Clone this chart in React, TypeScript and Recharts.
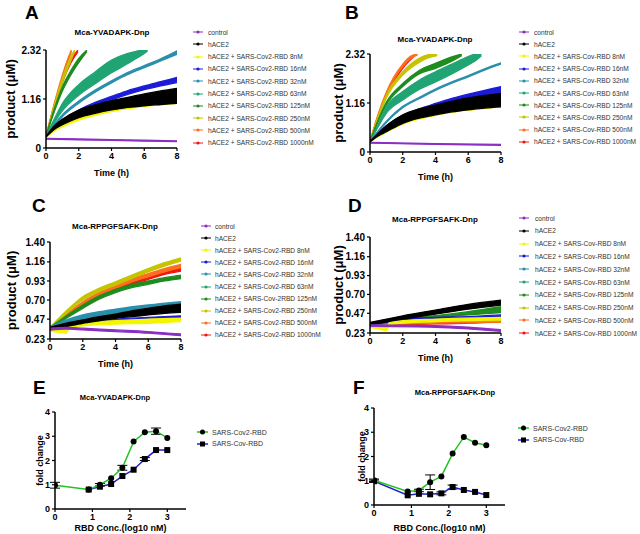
import React from 'react';
import { ComposedChart, Area, Line, XAxis, YAxis, ErrorBar, Label } from 'recharts';

type Pt = [number, number, number]; // [time h, low, high]

const COV2_NAMES = [
  'control', 'hACE2',
  'hACE2 + SARS-Cov2-RBD 8nM', 'hACE2 + SARS-Cov2-RBD 16nM', 'hACE2 + SARS-Cov2-RBD 32nM',
  'hACE2 + SARS-Cov2-RBD 63nM', 'hACE2 + SARS-Cov2-RBD 125nM', 'hACE2 + SARS-Cov2-RBD 250nM',
  'hACE2 + SARS-Cov2-RBD 500nM', 'hACE2 + SARS-Cov2-RBD 1000nM',
];
const COV2_NAMES_C = [
  'control', 'hACE2',
  'hACE2 + SARS-Cov2-RBD 8nM', 'hACE2 + SARS-Cov2-RBD 16nM', 'hACE2 + SARS-Cov2-RBD 32nM',
  'hACE2 + SARS-Cov2-RBD 63nM', 'hACE2 + SARS-Cov-2RBD 125nM', 'hACE2 + SARS-Cov2-RBD 250nM',
  'hACE2 + SARS-Cov2-RBD 500nM', 'hACE2 + SARS-Cov2-RBD 1000nM',
];
const COV_NAMES = [
  'control', 'hACE2',
  'hACE2 + SARS-Cov-RBD 8nM', 'hACE2 + SARS-Cov-RBD 16nM', 'hACE2 + SARS-Cov-RBD 32nM',
  'hACE2 + SARS-Cov-RBD 63nM', 'hACE2 + SARS-Cov-RBD 125nM', 'hACE2 + SARS-Cov-RBD 250nM',
  'hACE2 + SARS-Cov-RBD 500nM', 'hACE2 + SARS-Cov-RBD 1000nM',
];
const SERIES_COLORS = ['#8a2fc4', '#000000', '#f5f500', '#1c1cd8', '#2a8fac', '#20a474', '#1e8c1e', '#c4c400', '#ff6e1e', '#f01616'];

const TIME_TICKS = [0, 2, 4, 6, 8];
const AB_TICKS = [0, 1.16, 2.32];
const CD_TICKS = [0.23, 0.47, 0.7, 0.93, 1.16, 1.4];
const CONC_TICKS = [0, 1, 2, 3];
const FOLD_TICKS = [0, 1, 2, 3, 4];

// ---- panel A: Mca-YVADAPK-Dnp, SARS-Cov2-RBD
const aControl: Pt[] = [[0, 0.21, 0.23], [4, 0.18, 0.2], [8, 0.15, 0.17]];
const aHace2: Pt[] = [[0, 0.26, 0.27], [0.5, 0.44, 0.52], [1, 0.55, 0.68], [2, 0.72, 0.9], [3, 0.82, 1.02], [4, 0.9, 1.12], [5, 0.96, 1.2], [6, 1.0, 1.28], [7, 1.03, 1.35], [8, 1.06, 1.41]];
const a8: Pt[] = [[0, 0.25, 0.26], [0.5, 0.4, 0.43], [1, 0.5, 0.54], [2, 0.66, 0.71], [3, 0.77, 0.82], [4, 0.86, 0.9], [5, 0.93, 0.97], [6, 0.98, 1.02], [7, 1.02, 1.06], [8, 1.06, 1.1]];
const a16: Pt[] = [[0, 0.26, 0.27], [1, 0.6, 0.66], [2, 0.83, 0.9], [3, 1.0, 1.08], [4, 1.14, 1.22], [5, 1.27, 1.36], [6, 1.38, 1.47], [7, 1.47, 1.57], [8, 1.55, 1.67]];
const a32: Pt[] = [[0, 0.27, 0.28], [0.5, 0.52, 0.56], [1, 0.74, 0.79], [2, 1.06, 1.11], [3, 1.32, 1.37], [4, 1.54, 1.59], [5, 1.74, 1.79], [6, 1.9, 1.95], [7, 2.06, 2.11], [8, 2.22, 2.3]];
const a63: Pt[] = [[0, 0.27, 0.28], [0.5, 0.6, 0.68], [1, 0.88, 1.05], [2, 1.25, 1.5], [3, 1.52, 1.8], [4, 1.78, 2.08], [5, 2.0, 2.24], [5.5, 2.12, 2.29], [6, 2.24, 2.32], [6.2, 2.3, 2.32]];
const a125: Pt[] = [[0, 0.27, 0.28], [0.5, 0.85, 0.92], [1, 1.35, 1.45], [1.5, 1.72, 1.82], [2, 2.02, 2.12], [2.5, 2.28, 2.32]];
const a250: Pt[] = [[0, 0.27, 0.28], [0.5, 0.95, 1.0], [1, 1.55, 1.65], [1.5, 2.05, 2.15], [1.75, 2.28, 2.32]];
const a500: Pt[] = [[0, 0.27, 0.28], [0.5, 1.0, 1.05], [1, 1.65, 1.73], [1.3, 2.0, 2.08], [1.55, 2.28, 2.32]];
const a1000: Pt[] = [[0, 0.27, 0.28], [0.5, 0.95, 1.0], [1, 1.55, 1.62], [1.5, 2.0, 2.08], [1.95, 2.28, 2.32]];

// ---- panel B: Mca-YVADAPK-Dnp, SARS-Cov-RBD
const bControl: Pt[] = [[0, 0.21, 0.23], [4, 0.18, 0.2], [8, 0.16, 0.18]];
const bHace2: Pt[] = [[0, 0.24, 0.25], [0.5, 0.38, 0.44], [1, 0.48, 0.62], [2, 0.68, 0.88], [3, 0.8, 1.02], [4, 0.88, 1.11], [5, 0.95, 1.2], [6, 1.0, 1.28], [7, 1.04, 1.34], [8, 1.07, 1.39]];
const b8: Pt[] = [[0, 0.24, 0.25], [0.5, 0.36, 0.4], [1, 0.47, 0.51], [2, 0.66, 0.7], [3, 0.78, 0.82], [4, 0.87, 0.91], [5, 0.94, 0.98], [6, 0.99, 1.03], [7, 1.03, 1.07], [8, 1.07, 1.11]];
const b16: Pt[] = [[0, 0.24, 0.25], [1, 0.55, 0.62], [2, 0.78, 0.86], [3, 0.93, 1.02], [4, 1.05, 1.15], [5, 1.15, 1.27], [6, 1.25, 1.37], [7, 1.33, 1.46], [8, 1.4, 1.55]];
const b32: Pt[] = [[0, 0.24, 0.25], [1, 0.7, 0.73], [2, 1.05, 1.08], [3, 1.26, 1.29], [4, 1.46, 1.49], [5, 1.63, 1.66], [6, 1.78, 1.81], [7, 1.94, 1.97], [8, 2.08, 2.11]];
const b63: Pt[] = [[0, 0.24, 0.25], [0.5, 0.6, 0.65], [1, 0.92, 1.07], [2, 1.23, 1.43], [3, 1.48, 1.7], [4, 1.66, 1.9], [5, 1.85, 2.08], [6, 2.06, 2.26], [6.5, 2.18, 2.32], [6.8, 2.28, 2.32]];
const b125: Pt[] = [[0, 0.24, 0.25], [0.5, 0.72, 0.76], [1, 1.12, 1.18], [2, 1.55, 1.62], [3, 1.85, 1.93], [4, 1.98, 2.1], [5, 2.15, 2.25], [5.6, 2.28, 2.32]];
const b250: Pt[] = [[0, 0.24, 0.25], [0.5, 0.8, 0.85], [1, 1.28, 1.35], [2, 1.82, 1.9], [3, 2.12, 2.22], [3.5, 2.22, 2.3], [4.1, 2.28, 2.32]];
const b500: Pt[] = [[0, 0.24, 0.25], [0.5, 0.85, 0.9], [1, 1.36, 1.42], [2, 2.02, 2.08], [2.5, 2.22, 2.27], [2.9, 2.3, 2.32]];
const b1000: Pt[] = [[0, 0.24, 0.25], [0.5, 0.82, 0.87], [1, 1.33, 1.38], [2, 1.98, 2.04], [2.8, 2.3, 2.32]];

// ---- panel C: Mca-RPPGFSAFK-Dnp, SARS-Cov2-RBD
const cControl: Pt[] = [[0, 0.34, 0.36], [1, 0.35, 0.37], [2, 0.34, 0.36], [4, 0.32, 0.34], [6, 0.3, 0.32], [8, 0.27, 0.29]];
const cHace2: Pt[] = [[0, 0.34, 0.37], [1, 0.38, 0.42], [2, 0.42, 0.46], [3, 0.45, 0.5], [4, 0.48, 0.53], [5, 0.5, 0.57], [6, 0.52, 0.6], [7, 0.54, 0.63], [8, 0.55, 0.65]];
const c8: Pt[] = [[0, 0.33, 0.37], [0.5, 0.31, 0.36], [1, 0.3, 0.36], [1.2, 0.37, 0.41], [2, 0.39, 0.43], [4, 0.41, 0.45], [6, 0.42, 0.47], [8, 0.44, 0.48]];
const c16: Pt[] = [[0, 0.35, 0.37], [2, 0.42, 0.44], [4, 0.45, 0.47], [6, 0.47, 0.49], [8, 0.48, 0.51]];
const c32: Pt[] = [[0, 0.35, 0.38], [1, 0.41, 0.46], [2, 0.46, 0.52], [3, 0.49, 0.56], [4, 0.52, 0.59], [6, 0.57, 0.64], [8, 0.61, 0.68]];
const c63: Pt[] = [[0, 0.35, 0.38], [1, 0.41, 0.45], [2, 0.45, 0.51], [3, 0.48, 0.55], [4, 0.51, 0.58], [6, 0.56, 0.63], [8, 0.6, 0.67]];
const c125: Pt[] = [[0, 0.35, 0.37], [1, 0.48, 0.51], [2, 0.6, 0.64], [3, 0.71, 0.75], [4, 0.79, 0.83], [5, 0.85, 0.89], [6, 0.89, 0.93], [7, 0.93, 0.97], [8, 0.96, 1.0]];
const c250: Pt[] = [[0, 0.35, 0.37], [1, 0.54, 0.57], [2, 0.7, 0.74], [3, 0.8, 0.84], [4, 0.88, 0.92], [5, 0.96, 1.0], [6, 1.04, 1.08], [7, 1.11, 1.15], [8, 1.17, 1.21]];
const c500: Pt[] = [[0, 0.35, 0.37], [1, 0.5, 0.53], [2, 0.64, 0.68], [3, 0.75, 0.79], [4, 0.84, 0.88], [5, 0.92, 0.96], [6, 0.98, 1.02], [7, 1.04, 1.08], [8, 1.09, 1.13]];
const c1000: Pt[] = [[0, 0.35, 0.37], [1, 0.49, 0.52], [2, 0.62, 0.66], [3, 0.73, 0.77], [4, 0.82, 0.86], [5, 0.89, 0.93], [6, 0.95, 0.99], [7, 1.01, 1.05], [8, 1.05, 1.09]];

// ---- panel D: Mca-RPPGFSAFK-Dnp, SARS-Cov-RBD
const dControl: Pt[] = [[0, 0.31, 0.33], [4, 0.3, 0.32], [6, 0.28, 0.3], [8, 0.25, 0.27]];
const dHace2: Pt[] = [[0, 0.33, 0.36], [2, 0.4, 0.44], [4, 0.46, 0.51], [6, 0.52, 0.58], [8, 0.57, 0.63]];
const d8: Pt[] = [[0, 0.3, 0.33], [0.5, 0.28, 0.31], [1, 0.26, 0.3], [1.2, 0.33, 0.36], [2, 0.35, 0.38], [4, 0.37, 0.4], [8, 0.39, 0.42]];
const d16: Pt[] = [[0, 0.33, 0.35], [2, 0.38, 0.4], [4, 0.4, 0.42], [6, 0.41, 0.43], [8, 0.42, 0.45]];
const d32: Pt[] = [[0, 0.33, 0.35], [2, 0.36, 0.38], [4, 0.38, 0.4], [8, 0.4, 0.42]];
const d63: Pt[] = [[0, 0.33, 0.35], [2, 0.37, 0.39], [4, 0.39, 0.41], [8, 0.41, 0.43]];
const d125: Pt[] = [[0, 0.33, 0.35], [2, 0.37, 0.4], [4, 0.41, 0.44], [6, 0.45, 0.49], [8, 0.48, 0.55]];
const d250: Pt[] = [[0, 0.32, 0.34], [2, 0.35, 0.37], [4, 0.37, 0.39], [8, 0.38, 0.4]];
const d500: Pt[] = [[0, 0.32, 0.34], [2, 0.34, 0.36], [4, 0.35, 0.37], [8, 0.36, 0.38]];
const d1000: Pt[] = [[0, 0.32, 0.34], [2, 0.33, 0.35], [4, 0.34, 0.36], [6, 0.35, 0.37], [8, 0.37, 0.39]];

const PANEL_A = [aControl, aHace2, a8, a16, a32, a63, a125, a250, a500, a1000];
const PANEL_B = [bControl, bHace2, b8, b16, b32, b63, b125, b250, b500, b1000];
const PANEL_C = [cControl, cHace2, c8, c16, c32, c63, c125, c250, c500, c1000];
const PANEL_D = [dControl, dHace2, d8, d16, d32, d63, d125, d250, d500, d1000];

// ---- panels E/F: fold change vs log10 RBD conc. (0 = error hidden behind the marker)
const CONC_COV2 = [0, 0.9, 1.2, 1.5, 1.8, 2.1, 2.4, 2.7, 3.0];
const E_COV2 = [0.98, 0.8, 1.0, 1.27, 1.7, 2.78, 3.17, 3.21, 2.93];
const E_COV2_ERR = [0.12, 0, 0.05, 0, 0.1, 0, 0, 0.13, 0];
const CONC_COV_E = [0.9, 1.2, 1.5, 1.8, 2.1, 2.4, 2.7, 3.0];
const E_COV = [0.8, 0.92, 1.03, 1.36, 1.62, 2.06, 2.43, 2.43];
const E_COV_ERR = [0, 0, 0, 0, 0, 0.06, 0, 0];
const F_COV2 = [1.02, 0.56, 0.6, 0.94, 1.18, 2.12, 2.8, 2.57, 2.46];
const F_COV2_ERR = [0.05, 0, 0.05, 0.3, 0, 0, 0, 0, 0];
const CONC_COV_F = [0, 0.9, 1.2, 1.5, 1.8, 2.1, 2.4, 2.7, 3.0];
const F_COV = [0.98, 0.4, 0.46, 0.44, 0.48, 0.74, 0.62, 0.54, 0.41];
const F_COV_ERR = [0.05, 0, 0, 0, 0.06, 0.08, 0, 0, 0];
const FOLD_NAMES = ['SARS-Cov2-RBD', 'SARS-Cov-RBD'];
const FOLD_COLORS = ['#22c422', '#2222c8'];

const FONT = '"Liberation Sans", Arial, sans-serif';
const toRows = (pts: Pt[]) => pts.map(([t, lo, hi]) => ({ t, r: [lo, hi] }));
const toFold = (xs: number[], ys: number[], es: number[]) => xs.map((x, i) => ({ x, y: ys[i], e: es[i] }));
const fmtY = (v: number) => (v === 0 ? '0' : v.toFixed(2));

const axisLine = { stroke: '#000', strokeWidth: 1.5 };
const tickLine = { stroke: '#000', strokeWidth: 1.2 };

const PanelLetter = ({ x, y, text }: { x: number; y: number; text: string }) => (
  <div style={{ position: 'absolute', left: x, top: y, fontSize: 19, lineHeight: '19px', fontWeight: 700 }}>{text}</div>
);

const Title = ({ cx, y, size, text }: { cx: number; y: number; size: number; text: string }) => (
  <div style={{ position: 'absolute', left: cx - 70, top: y, width: 140, textAlign: 'center', fontSize: size, lineHeight: `${size}px`, fontWeight: 700 }}>{text}</div>
);

const SeriesLegend = ({ x, textX, y0, step, names, colors }: { x: number; textX: number; y0: number; step: number; names: string[]; colors: string[] }) => (
  <>
    {names.map((n, i) => (
      <div key={n} style={{ position: 'absolute', left: x, top: y0 + i * step - 5, height: 10, display: 'flex', alignItems: 'center', whiteSpace: 'nowrap' }}>
        <svg width={10} height={6}>
          <line x1={0} y1={3} x2={10} y2={3} stroke={colors[i]} strokeWidth={1} />
          <circle cx={5} cy={3} r={1.6} fill={colors[i]} />
        </svg>
        <span style={{ marginLeft: textX - x - 10, fontSize: 6.6, color: '#333' }}>{n}</span>
      </div>
    ))}
  </>
);

const FoldLegend = ({ x, y0, step }: { x: number; y0: number; step: number }) => (
  <>
    {FOLD_NAMES.map((n, i) => (
      <div key={n} style={{ position: 'absolute', left: x, top: y0 + i * step - 5, height: 10, display: 'flex', alignItems: 'center', whiteSpace: 'nowrap' }}>
        <svg width={11} height={8}>
          <line x1={0} y1={4} x2={11} y2={4} stroke={FOLD_COLORS[i]} strokeWidth={1.5} />
          {i === 0 ? <circle cx={5.5} cy={4} r={2.5} fill="#000" /> : <rect x={3} y={1.5} width={5} height={5} fill="#000" />}
        </svg>
        <span style={{ marginLeft: 4, fontSize: 7, color: '#333' }}>{n}</span>
      </div>
    ))}
  </>
);

interface KineticProps {
  left: number; top: number; width: number; height: number; yWidth: number; labelOffset: number;
  series: Pt[][]; yTicks: number[];
}

const Kinetic = ({ left, top, width, height, yWidth, labelOffset, series, yTicks }: KineticProps) => (
  <div style={{ position: 'absolute', left, top }}>
    <ComposedChart width={width} height={height} margin={{ top: 10, right: width - yWidth - 131, bottom: 4, left: 0 }}>
      <XAxis type="number" dataKey="t" domain={[0, 8]} ticks={TIME_TICKS} allowDataOverflow height={28}
        axisLine={axisLine} tickLine={tickLine} tickSize={3} tick={{ fill: '#000', fontSize: 9, fontWeight: 700 }}>
        <Label value="Time (h)" position="insideBottom" offset={0} style={{ fill: '#000', fontSize: 9, fontWeight: 700 }} />
      </XAxis>
      <YAxis type="number" domain={[yTicks[0], yTicks[yTicks.length - 1]]} ticks={yTicks} allowDataOverflow width={yWidth}
        axisLine={axisLine} tickLine={tickLine} tickSize={3} tickFormatter={fmtY} tick={{ fill: '#000', fontSize: 10, fontWeight: 700 }}>
        <Label value="product (μM)" angle={-90} position="insideLeft" offset={labelOffset}
          style={{ textAnchor: 'middle', fill: '#000', fontSize: 13, fontWeight: 700 }} />
      </YAxis>
      {series.map((s, i) => (
        <Area key={i} data={toRows(s)} dataKey="r" type="monotone" stroke={SERIES_COLORS[i]} strokeWidth={1.3}
          fill={SERIES_COLORS[i]} fillOpacity={1} dot={false} activeDot={false} isAnimationActive={false} />
      )).reverse()}
    </ComposedChart>
  </div>
);

const SquareDot = (props: any) => {
  const { cx, cy } = props;
  if (cx == null || cy == null) return <g />;
  return <rect x={cx - 3} y={cy - 3} width={6} height={6} fill="#000" />;
};

interface FoldProps {
  left: number; top: number; height: number; yWidth: number; xHeight: number; labelOffset: number;
  cov2: { x: number; y: number; e: number }[]; cov: { x: number; y: number; e: number }[];
}

const Fold = ({ left, top, height, yWidth, xHeight, labelOffset, cov2, cov }: FoldProps) => (
  <div style={{ position: 'absolute', left, top }}>
    <ComposedChart width={190} height={height} margin={{ top: 10, right: 190 - yWidth - 131, bottom: 3, left: 0 }}>
      <XAxis type="number" dataKey="x" domain={[0, 3.5]} ticks={CONC_TICKS} allowDataOverflow height={xHeight}
        axisLine={axisLine} tickLine={tickLine} tickSize={3} tick={{ fill: '#000', fontSize: 9, fontWeight: 700 }}>
        <Label value="RBD Conc.(log10 nM)" position="insideBottom" offset={0} style={{ fill: '#000', fontSize: 9, fontWeight: 700 }} />
      </XAxis>
      <YAxis type="number" domain={[0, 4]} ticks={FOLD_TICKS} width={yWidth}
        axisLine={axisLine} tickLine={tickLine} tickSize={3} tick={{ fill: '#000', fontSize: 9, fontWeight: 700 }}>
        <Label value="fold change" angle={-90} position="insideLeft" offset={labelOffset}
          style={{ textAnchor: 'middle', fill: '#000', fontSize: 9, fontWeight: 700 }} />
      </YAxis>
      <Line data={cov} dataKey="y" stroke={FOLD_COLORS[1]} strokeWidth={1.5} dot={<SquareDot />} activeDot={false} isAnimationActive={false}>
        <ErrorBar dataKey="e" width={5} stroke="#000" strokeWidth={1} direction="y" />
      </Line>
      <Line data={cov2} dataKey="y" stroke={FOLD_COLORS[0]} strokeWidth={1.5} dot={{ r: 3, fill: '#000', stroke: '#000', strokeWidth: 0 }} activeDot={false} isAnimationActive={false}>
        <ErrorBar dataKey="e" width={5} stroke="#000" strokeWidth={1} direction="y" />
      </Line>
    </ComposedChart>
  </div>
);

export default function App() {
  return (
    <div style={{ position: 'absolute', left: 0, top: 0, width: 640, height: 534, background: '#fff', fontFamily: FONT, color: '#000', overflow: 'hidden' }}>
      <PanelLetter x={25} y={3} text="A" />
      <PanelLetter x={345} y={3} text="B" />
      <PanelLetter x={32} y={196} text="C" />
      <PanelLetter x={348} y={196} text="D" />
      <PanelLetter x={33} y={378} text="E" />
      <PanelLetter x={353} y={378} text="F" />

      <Title cx={112} y={29} size={8} text="Mca-YVADAPK-Dnp" />
      <Title cx={435} y={36} size={8} text="Mca-YVADAPK-Dnp" />
      <Title cx={115} y={223} size={8} text="Mca-RPPGFSAFK-Dnp" />
      <Title cx={435} y={216} size={8} text="Mca-RPPGFSAFK-Dnp" />
      <Title cx={115} y={394} size={7.5} text="Mca-YVADAPK-Dnp" />
      <Title cx={455} y={389} size={7.5} text="Mca-RPPGFSAFK-Dnp" />

      <Kinetic left={0} top={40} width={185} height={140} yWidth={46} labelOffset={10} series={PANEL_A} yTicks={AB_TICKS} />
      <Kinetic left={320} top={44} width={189} height={140} yWidth={50} labelOffset={18} series={PANEL_B} yTicks={AB_TICKS} />
      <Kinetic left={0} top={232} width={189} height={139} yWidth={50} labelOffset={11} series={PANEL_C} yTicks={CD_TICKS} />
      <Kinetic left={320} top={227} width={189} height={138} yWidth={50} labelOffset={18} series={PANEL_D} yTicks={CD_TICKS} />

      <Fold left={0} top={402} height={132} yWidth={55} xHeight={22} labelOffset={40}
        cov2={toFold(CONC_COV2, E_COV2, E_COV2_ERR)} cov={toFold(CONC_COV_E, E_COV, E_COV_ERR)} />
      <Fold left={320} top={398} height={136} yWidth={54} xHeight={26} labelOffset={42}
        cov2={toFold(CONC_COV2, F_COV2, F_COV2_ERR)} cov={toFold(CONC_COV_F, F_COV, F_COV_ERR)} />

      <SeriesLegend x={193} textX={208} y0={32} step={12.3} names={COV2_NAMES} colors={SERIES_COLORS} />
      <SeriesLegend x={519} textX={534} y0={32} step={12.2} names={COV_NAMES} colors={SERIES_COLORS} />
      <SeriesLegend x={201} textX={215} y0={226} step={12.1} names={COV2_NAMES_C} colors={SERIES_COLORS} />
      <SeriesLegend x={519} textX={535} y0={218} step={12.8} names={COV_NAMES} colors={SERIES_COLORS} />
      <FoldLegend x={197} y0={432} step={11.5} />
      <FoldLegend x={518} y0={428} step={11.7} />
    </div>
  );
}
